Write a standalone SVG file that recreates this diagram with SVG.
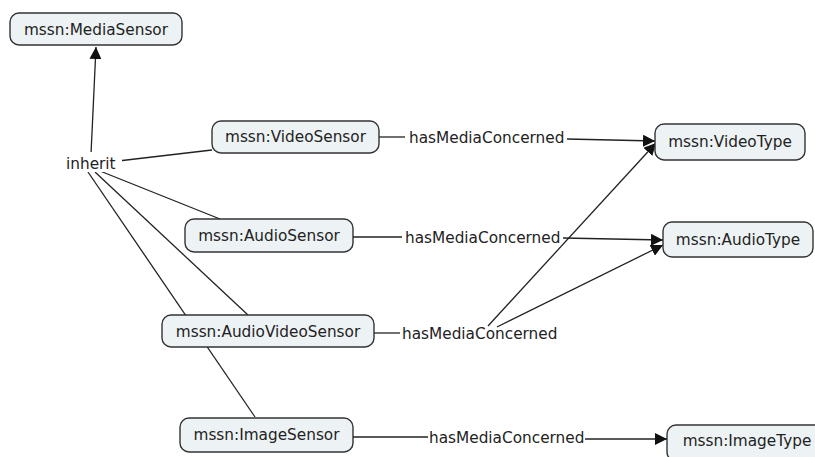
<svg xmlns="http://www.w3.org/2000/svg" width="815" height="457" viewBox="0 0 815 457">
<defs>
<style>
.node rect{fill:#edf2f4;stroke:#333;stroke-width:1.4}
text{font-family:"DejaVu Sans",Verdana,sans-serif;font-size:15.3px;fill:#222}
.node text{text-anchor:middle}
.conn line{stroke:#222;stroke-width:1.3}
.lbl{fill:#222}
</style>
<marker id="arr" viewBox="0 0 12 12" refX="12" refY="6" markerWidth="12" markerHeight="12" markerUnits="userSpaceOnUse" orient="auto">
<path d="M0,0 L12,6 L0,12 Z" fill="#111"/>
</marker>
</defs>
<rect width="815" height="457" fill="#fff"/>
<g id="connectors" class="conn">
<line x1="91" y1="154" x2="96" y2="47" marker-end="url(#arr)"/>
<line x1="118" y1="161" x2="212" y2="150"/>
<line x1="100" y1="171" x2="220" y2="219"/>
<line x1="95" y1="172" x2="248" y2="315"/>
<line x1="88" y1="172" x2="255" y2="417"/>
<line x1="379" y1="137" x2="405" y2="137"/>
<line x1="567" y1="139" x2="655" y2="141" marker-end="url(#arr)"/>
<line x1="353" y1="237" x2="402" y2="237"/>
<line x1="563" y1="238" x2="663" y2="240" marker-end="url(#arr)"/>
<line x1="374" y1="333" x2="400" y2="333"/>
<line x1="488" y1="326" x2="656" y2="143" marker-end="url(#arr)"/>
<line x1="497" y1="327" x2="663" y2="245" marker-end="url(#arr)"/>
<line x1="353" y1="437" x2="428" y2="437"/>
<line x1="585" y1="439" x2="667" y2="439" marker-end="url(#arr)"/>
<rect x="60" y="152" width="62" height="20" fill="#fff"/>
<text x="66" y="169">inherit</text>
<text x="409" y="143">hasMediaConcerned</text>
<text x="405" y="243">hasMediaConcerned</text>
<text x="402" y="339">hasMediaConcerned</text>
<text x="429" y="443">hasMediaConcerned</text>
</g>
<g id="MediaSensor" class="node"><rect x="10" y="13" width="172" height="32" rx="9"/><text x="96" y="35">mssn:MediaSensor</text></g>
<g id="VideoSensor" class="node"><rect x="212" y="121" width="167" height="32" rx="9"/><text x="295.5" y="142">mssn:VideoSensor</text></g>
<g id="AudioSensor" class="node"><rect x="185" y="219" width="168" height="33" rx="9"/><text x="269" y="241">mssn:AudioSensor</text></g>
<g id="AudioVideoSensor" class="node"><rect x="162" y="315" width="212" height="32" rx="9"/><text x="268" y="337">mssn:AudioVideoSensor</text></g>
<g id="ImageSensor" class="node"><rect x="180" y="418" width="173" height="34" rx="9"/><text x="266.5" y="440">mssn:ImageSensor</text></g>
<g id="VideoType" class="node"><rect x="655" y="124" width="150" height="36" rx="9"/><text x="730" y="147">mssn:VideoType</text></g>
<g id="AudioType" class="node"><rect x="663" y="222" width="150" height="35" rx="9"/><text x="738" y="245">mssn:AudioType</text></g>
<g id="ImageType" class="node"><rect x="667" y="425" width="160" height="36" rx="9"/><text x="747" y="446">mssn:ImageType</text></g>
</svg>
